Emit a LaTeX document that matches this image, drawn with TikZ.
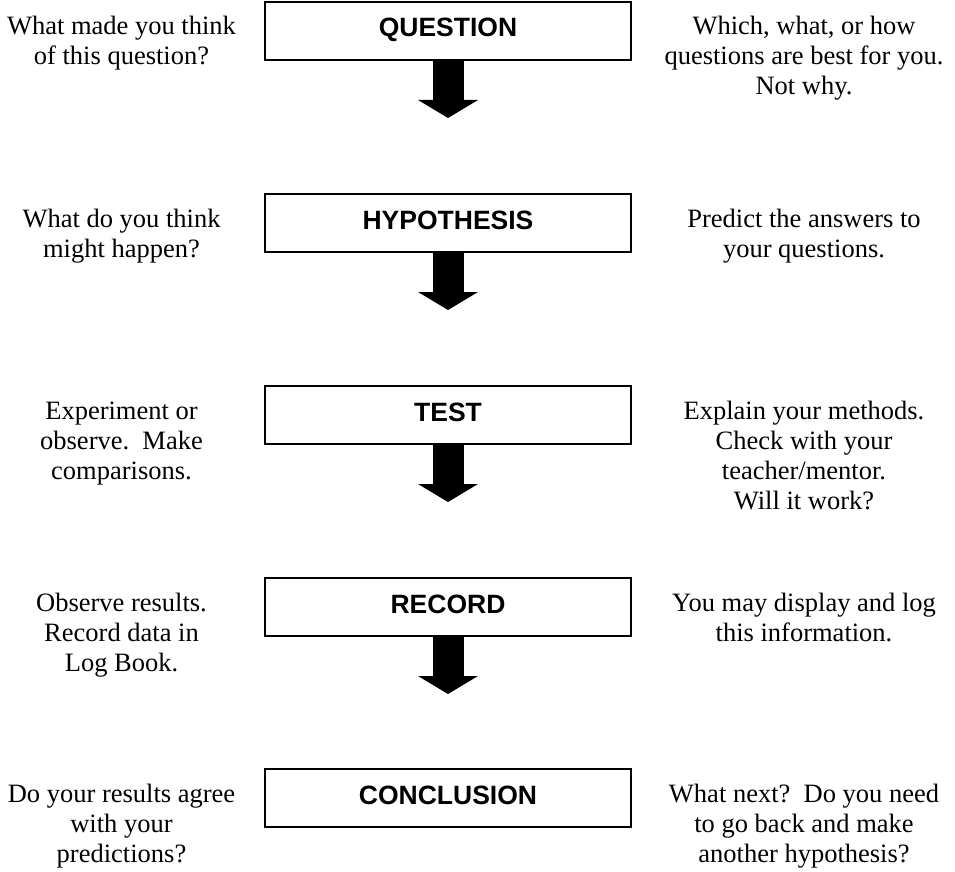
\documentclass[tikz,border=0pt]{standalone}
\usepackage{fontspec}
\setmainfont{Liberation Serif}
\newfontfamily\boxfont{Liberation Sans}
\usetikzlibrary{arrows.meta}
\newcommand\sidetext[1]{\begin{tabular}[t]{@{}c@{}}#1\end{tabular}}
\tikzset{
  stepbox/.style={draw, line width=1.5pt, minimum width=366pt, minimum height=58pt,
    inner sep=0pt, text height=19pt, text depth=7pt,
    font=\boxfont\bfseries\fontsize{26.5}{30}\selectfont},
  side/.style={anchor=base, inner sep=0pt, font=\fontsize{26.5}{30}\selectfont},
  bigarrow/.style={line width=31pt, -{Triangle[width=60pt,length=18pt,line width=0pt]}}
}
\begin{document}
\begin{tikzpicture}[x=1pt,y=-1pt]
\useasboundingbox (0,0) rectangle (955,872);
\node[stepbox] (q) at (448,31) {QUESTION};
\node[stepbox] (h) at (448,223) {HYPOTHESIS};
\node[stepbox] (t) at (448,415) {TEST};
\node[stepbox] (r) at (448,607) {RECORD};
\node[stepbox] (c) at (448,798) {CONCLUSION};
\coordinate (qe) at (448,118);
\coordinate (he) at (448,310);
\coordinate (te) at (448,502);
\coordinate (re) at (448,694);
\draw[bigarrow] (q.south) -- (qe);
\draw[bigarrow] (h.south) -- (he);
\draw[bigarrow] (t.south) -- (te);
\draw[bigarrow] (r.south) -- (re);
\node[side] (ql) at (121.5,35) {\sidetext{What made you think\\of this question?}};
\node[side] (qr) at (804,35) {\sidetext{Which, what, or how\\questions are best for you.\\Not why.}};
\node[side] (hl) at (121.5,227) {\sidetext{What do you think\\might happen?}};
\node[side] (hr) at (804,227) {\sidetext{Predict the answers to\\your questions.}};
\node[side] (tl) at (121.5,419) {\sidetext{Experiment or\\observe.\ \ Make\\comparisons.}};
\node[side] (tr) at (804,419) {\sidetext{Explain your methods.\\Check with your\\teacher/mentor.\\Will it work?}};
\node[side] (rl) at (121.5,611) {\sidetext{Observe results.\\Record data in\\Log Book.}};
\node[side] (rr) at (804,611) {\sidetext{You may display and log\\this information.}};
\node[side] (cl) at (121.5,802) {\sidetext{Do your results agree\\with your\\predictions?}};
\node[side] (cr) at (804,802) {\sidetext{What next?\ \ Do you need\\to go back and make\\another hypothesis?}};
\end{tikzpicture}
\end{document}
